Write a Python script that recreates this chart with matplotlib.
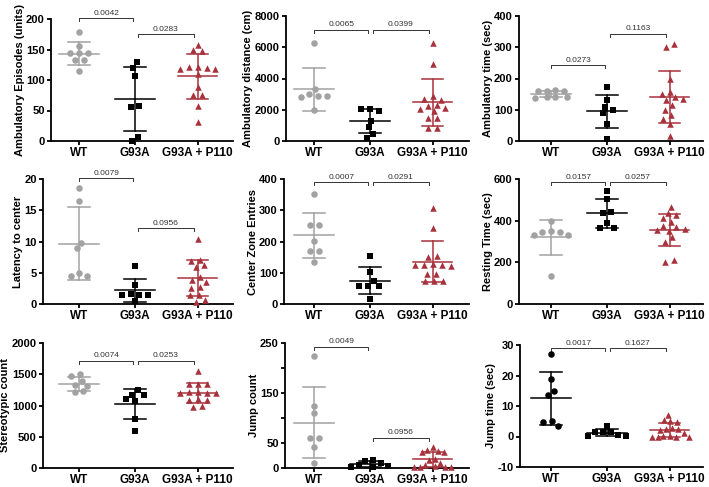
import numpy as np
import matplotlib.pyplot as plt

plt.rcParams['font.family'] = ['Liberation Sans', 'DejaVu Sans']

#data----------------------------------------------------------
groups = ['WT', 'G93A', 'G93A + P110']

amb_episodes = [[179, 156, 144, 144, 144, 132, 132, 114],
                [130, 120, 107, 58, 56, 7, 0],
                [158, 149, 148, 122, 118, 121, 118, 120, 110, 88, 75, 75, 57, 31]]
amb_distance = [[6270, 3300, 2980, 2870, 2860, 2830, 1980],
                [2070, 2050, 1950, 1300, 900, 480, 200],
                [6250, 4900, 2850, 2650, 2700, 2300, 2250, 2100, 2050, 1900, 1500, 1450, 850, 830]]
amb_time = [[162, 161, 160, 159, 141, 140, 140, 139],
            [172, 130, 110, 100, 90, 55, 5],
            [310, 300, 200, 158, 150, 140, 135, 132, 115, 100, 83, 72, 55, 16]]
latency = [[18.6, 16.5, 9.8, 8.9, 4.9, 4.5, 4.5],
           [6.1, 3.0, 1.6, 1.4, 1.4, 1.5, 0.5],
           [10.4, 7.1, 6.9, 6.2, 6.0, 4.4, 3.8, 3.6, 2.8, 2.6, 1.4, 1.4, 0.6, 0.4]]
center_entries = [[351, 253, 253, 202, 171, 171, 135],
                  [155, 103, 74, 58, 58, 58, 16],
                  [308, 242, 155, 150, 125, 125, 128, 122, 125, 95, 95, 75, 75, 75]]
resting = [[400, 352, 345, 344, 332, 330, 136],
           [544, 504, 443, 435, 387, 366, 366],
           [467, 411, 438, 427, 392, 376, 362, 354, 368, 350, 320, 299, 203, 211]]
stereo = [[1500, 1470, 1400, 1330, 1310, 1230, 1215],
          [1250, 1170, 1170, 1100, 1080, 790, 600],
          [1560, 1350, 1345, 1340, 1220, 1210, 1200, 1200, 1195, 1100, 1090, 1085, 990, 970]]
jump_count = [[225, 125, 111, 60, 60, 43, 10],
              [16, 15, 10, 6, 5, 3, 3],
              [42, 37, 34, 33, 32, 18, 16, 10, 6, 4, 3, 2, 2, 2]]
jump_time = [[27, 19, 15, 13.5, 5, 4.8, 3.5],
             [3.5, 1.6, 1.5, 1.4, 0.5, 0.3, 0.2],
             [7.0, 5.3, 5.0, 4.8, 2.8, 2.5, 2.3, 2.0, 1.2, 0.1, 0.1, 0.0, 0.0, 0.0, 0.0]]

ylabels = ['Ambulatory Episodes (units)', 'Ambulatory distance (cm)', 'Ambulatory time (sec)',
           'Latency to center', 'Center Zone Entries', 'Resting Time (sec)',
           'Stereotypic count', 'Jump count', 'Jump time (sec)']
datasets = [amb_episodes, amb_distance, amb_time, latency, center_entries,
            resting, stereo, jump_count, jump_time]
yticks = [[0, 50, 100, 150, 200], [0, 2000, 4000, 6000, 8000], [0, 100, 200, 300, 400],
          [0, 5, 10, 15, 20], [0, 100, 200, 300, 400], [0, 200, 400, 600],
          [0, 500, 1000, 1500, 2000], [0, 50, 100, 150, 200, 250], [-10, 0, 10, 20, 30]]
ytick_labels = [[str(v) for v in t] for t in yticks]
ytick_labels[7] = ['0', '50', '', '150', '', '250']
pvals = [('0.0042', '0.0283'), ('0.0065', '0.0399'), ('0.0273', '0.1163'),
         ('0.0079', '0.0956'), ('0.0007', '0.0291'), ('0.0157', '0.0257'),
         ('0.0074', '0.0253'), ('0.0049', '0.0956'), ('0.0017', '0.1627')]

#layout--------------------------------------------------------
bracket_y = [(201, 175), (7128, 7128), (243, 344), (20.1, 12.1), (391, 391),
             (587, 587), (1717, 1717), (243, 61), (28.9, 28.9)]
W, H = 709, 487
lefts = [51, 286, 519, 43, 284, 519, 43, 285, 520]
tops = [19, 16, 16, 179, 179, 179, 343, 343, 345]
bottoms = [141, 141, 141, 304, 304, 304, 468, 468, 467]
col_off = [0, 236, 470]
wt_rel = [79, 78, 81]
unit = 56.0
xpos = [0, 1, 2.12]
gray = '#a2a2a2'
red = '#a8323c'
markers = ['o', 's', '^']


def swarm(vals, lo, hi, h_px, dx=9.0, dy=6.5, max_half=19.0):
    # beeswarm in pixels (elliptic footprint), touching clusters centred
    y = (np.asarray(vals, float) - lo) / (hi - lo) * h_px
    n = len(y)
    x = np.full(n, np.nan)

    def dist2(c, i, j):
        return ((c - x[j]) / dx) ** 2 + ((y[i] - y[j]) / dy) ** 2

    for i in np.argsort(-y, kind='stable'):
        placed = [j for j in range(n) if not np.isnan(x[j])]
        cands = [0.0]
        for j in placed:
            t = 1 - ((y[i] - y[j]) / dy) ** 2
            if t > 0:
                w = dx * np.sqrt(t)
                cands += [x[j] - w, x[j] + w]
        for c in sorted(cands, key=lambda c: (round(abs(c), 6), c)):
            if all(dist2(c, i, j) >= 1 - 1e-6 for j in placed):
                x[i] = c
                break

    lab = list(range(n))

    def find(a):
        while lab[a] != a:
            a = lab[a]
        return a

    for i in range(n):
        for j in range(i + 1, n):
            if dist2(x[i], i, j) < 1.001:
                lab[find(i)] = find(j)
    roots = np.array([find(i) for i in range(n)])
    for rt in set(roots):
        idx = roots == rt
        x[idx] -= x[idx].mean()
    m = np.abs(x).max()
    if m > max_half:
        x *= max_half / m
    return x


fig = plt.figure(figsize=(W / 100, H / 100), dpi=100)

for n in range(9):
    col = n % 3
    l, t, b = lefts[n], tops[n], bottoms[n]
    r = col_off[col] + 233
    ax = fig.add_axes([l / W, 1 - b / H, (r - l) / W, (b - t) / H])
    wt = col_off[col] + wt_rel[col]
    ax.set_xlim((l - wt) / unit, (r - wt) / unit)
    lo, hi = yticks[n][0], yticks[n][-1]
    ax.set_ylim(lo, hi)
    colors = [gray, 'black', red]
    if n == 8:
        colors[0] = 'black'

    for k in range(3):
        v = np.array(datasets[n][k], float)
        off = swarm(v, lo, hi, b - t) / unit
        ax.scatter(xpos[k] + off, v, marker=markers[k], s=22, color=colors[k],
                   linewidths=0, zorder=3, clip_on=False)
        m, sd = v.mean(), v.std(ddof=1)
        x0 = xpos[k]
        ax.plot([x0 - 0.35, x0 + 0.35], [m, m], color=colors[k], lw=1.1, zorder=4)
        ax.plot([x0, x0], [m - sd, m + sd], color=colors[k], lw=1.1, zorder=4)
        for yy in (m - sd, m + sd):
            ax.plot([x0 - 0.19, x0 + 0.19], [yy, yy], color=colors[k], lw=1.1, zorder=4)

    # significance brackets
    d = 3.0 / (b - t) * (hi - lo)
    spans = [(0.0, 0.97), (1.05, xpos[2] - 0.07)]
    for (xa, xb), yb, p in zip(spans, bracket_y[n], pvals[n]):
        ax.plot([xa, xa, xb, xb], [yb - d, yb, yb, yb - d], color='#333333',
                lw=0.7, clip_on=False)
        ax.text((xa + xb) / 2, yb + d * 0.4, p, ha='center', va='bottom',
                fontsize=6, color='#333333', clip_on=False)

    ax.set_xticks(xpos)
    ax.set_xticklabels(groups, fontsize=8.5, fontweight='bold')
    ax.set_yticks(yticks[n])
    ax.set_yticklabels(ytick_labels[n], fontsize=8, fontweight='bold')
    ax.set_ylabel(ylabels[n], fontsize=8, fontweight='bold', labelpad=1)
    for s in ['top', 'right']:
        ax.spines[s].set_visible(False)
    for s in ['left', 'bottom']:
        ax.spines[s].set_linewidth(1.3)
    ax.tick_params(width=1.3, length=3, pad=1.5)

fig.savefig('out.png', dpi=100)
